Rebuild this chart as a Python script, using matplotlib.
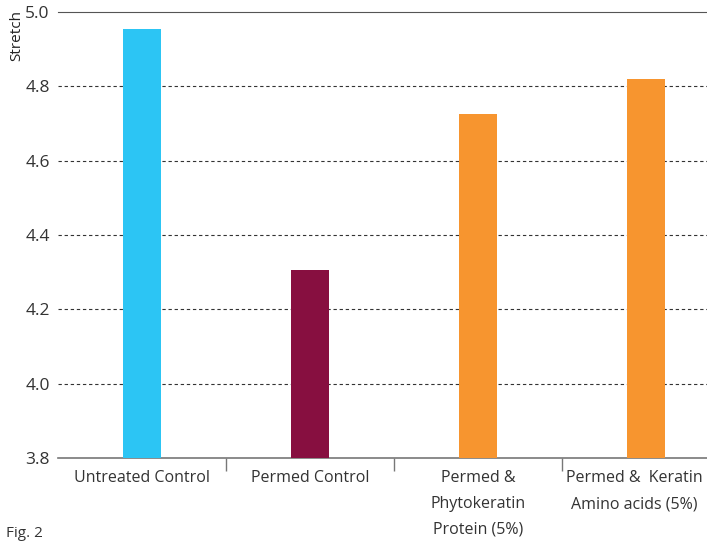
import matplotlib.pyplot as plt
from matplotlib.ticker import FixedLocator
from matplotlib.transforms import ScaledTranslation

# data
categories = ["Untreated Control", "Permed Control",
              "Permed &\nPhytokeratin\nProtein (5%)", "Permed &  Keratin\nAmino acids (5%)"]
stretch = [4.955, 4.305, 4.725, 4.82]
colors = ["#2CC5F4", "#870F40", "#F7952F", "#F7952F"]
yticks = [3.8, 4.0, 4.2, 4.4, 4.6, 4.8, 5.0]

plt.rcParams['font.family'] = ['Open Sans', 'DejaVu Sans']

fig = plt.figure(figsize=(7.07, 5.42), dpi=100)
W, H = 707, 542
# axes reaches past right edge like the original
ax = fig.add_axes([58 / W, 1 - 458 / H, 672 / W, 446 / H])

x = list(range(len(categories)))
ax.bar(x, stretch, width=0.23, color=colors, zorder=3)

ax.set_xlim(-0.5, 3.5)
ax.set_ylim(3.8, 5.0)
ax.set_yticks(yticks)
ax.set_yticklabels([f"{v:.1f}" for v in yticks], fontsize=12.5, color="#333333")
ax.tick_params(axis='y', length=0, pad=6)

ax.set_xticks(x)
ax.set_xticklabels(categories, fontsize=11.5, color="#333333", linespacing=1.8)
ax.tick_params(axis='x', which='major', length=0, pad=9)
ax.xaxis.set_minor_locator(FixedLocator([0.5, 1.5, 2.5]))
ax.tick_params(axis='x', which='minor', length=9, width=1, color="#777777", direction='out')

# last label sits a bit left so it fits in the picture
last = ax.get_xticklabels()[-1]
last.set_transform(last.get_transform() + ScaledTranslation(-12 / 100, 0, fig.dpi_scale_trans))

for v in yticks[1:-1]:
    ax.axhline(v, color="#333333", lw=0.8, ls=(0, (3, 2.5)), zorder=1)

for s in ['left', 'right']:
    ax.spines[s].set_visible(False)
ax.spines['top'].set_color("#555555")
ax.spines['bottom'].set_color("#777777")
ax.spines['bottom'].set_linewidth(1.2)

fig.text(9 / W, 1 - 10 / H, "Stretch", rotation=90, ha='left', va='top', fontsize=11, color="#222222")
fig.text(6 / W, 1 - 541 / H, "Fig. 2", ha='left', va='bottom', fontsize=11, color="#333333")

fig.savefig("out.png", dpi=100)
